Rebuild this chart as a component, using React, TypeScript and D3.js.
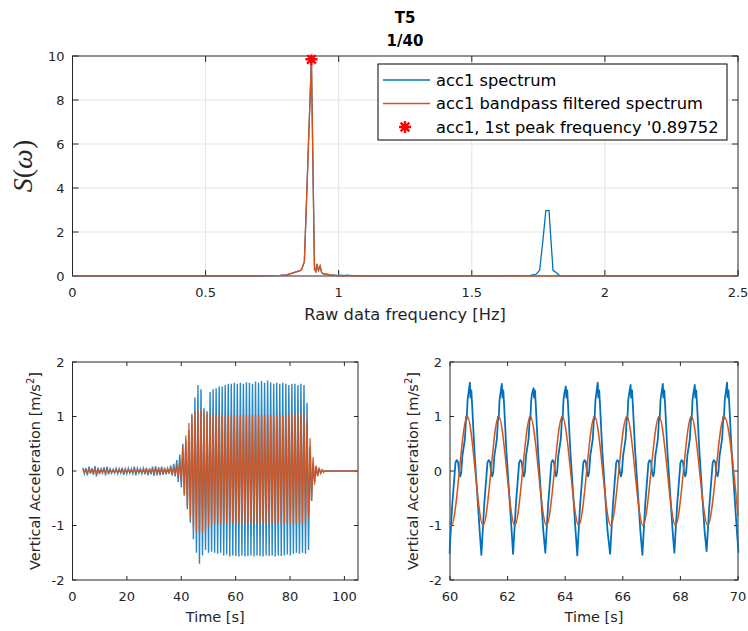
import React from 'react';
import * as d3 from 'd3';

// ---------------- data ----------------
// Top: spectra
const specFreq = [0, 0.5, 0.7, 0.78, 0.805, 0.843, 0.855, 0.861, 0.871, 0.88, 0.889, 0.8975, 0.905, 0.909, 0.914, 0.918, 0.924, 0.93, 0.936, 0.943, 0.955, 0.968, 0.99, 1.0, 1.01, 1.02, 1.03, 1.05, 1.2, 1.6, 1.72, 1.743, 1.755, 1.767, 1.778, 1.79, 1.805, 1.818, 1.83, 1.86, 2.0, 2.5];
const specOrange = [0.01, 0.01, 0.01, 0.03, 0.05, 0.2, 0.24, 0.3, 0.65, 3.7, 6.9, 9.85, 3.6, 0.3, 0.2, 0.55, 0.25, 0.45, 0.15, 0.1, 0.08, 0.05, 0.03, 0.02, 0.01, 0.01, 0.01, 0.01, 0.01, 0.01, 0.01, 0.01, 0.01, 0.01, 0.01, 0.01, 0.01, 0.01, 0.01, 0.01, 0.01, 0.01];
const specBlue = [0.01, 0.01, 0.01, 0.03, 0.05, 0.2, 0.24, 0.3, 0.65, 3.7, 6.9, 9.85, 3.6, 0.3, 0.2, 0.55, 0.25, 0.45, 0.15, 0.1, 0.08, 0.05, 0.03, 0.02, 0.04, 0.02, 0.04, 0.02, 0.01, 0.01, 0.03, 0.09, 0.27, 1.6, 2.97, 2.97, 0.27, 0.15, 0.02, 0.01, 0.01, 0.01];
const peakFreq = 0.89752;
const peakValue = 9.85;
const topXTicks = [0, 0.5, 1, 1.5, 2, 2.5];
const topYTicks = [0, 2, 4, 6, 8, 10];

// Bottom left: per-cycle extremes of the time series (one cycle = 1/peakFreq s)
const leftStart = 3.8;
const blueUp = [0.06, 0.05, 0.08, 0.05, 0.09, 0.06, 0.04, 0.07, 0.08, 0.04, 0.03, 0.05, 0.04, 0.06, 0.04, 0.05, 0.04, 0.08, 0.05, 0.04, 0.05, 0.06, 0.05, 0.08, 0.09, 0.07, 0.08, 0.06, 0.05, 0.1, 0.13,
  0.2, 0.3, 0.5, 0.55, 0.75, 1.05, 1.35, 1.58, 1.5, 1.15, 1.1, 1.45, 1.5, 1.52, 1.55, 1.55, 1.58, 1.6, 1.6, 1.62, 1.6, 1.62, 1.6, 1.63, 1.62, 1.6, 1.64, 1.62, 1.65, 1.62, 1.66, 1.63, 1.6, 1.62, 1.6, 1.62, 1.6, 1.58, 1.6, 1.6, 1.58, 1.6, 1.58, 1.25, 0.45, 0.15, 0.08, 0.04, 0.02];
const blueLow = [-0.05, -0.08, -0.05, -0.07, -0.1, -0.06, -0.04, -0.08, -0.06, -0.04, -0.04, -0.05, -0.04, -0.07, -0.05, -0.04, -0.05, -0.08, -0.04, -0.05, -0.06, -0.08, -0.06, -0.09, -0.08, -0.08, -0.07, -0.06, -0.05, -0.08, -0.1,
  -0.2, -0.3, -0.45, -0.7, -0.95, -1.25, -1.5, -1.7, -1.55, -1.45, -1.5, -1.48, -1.5, -1.52, -1.5, -1.55, -1.53, -1.57, -1.55, -1.56, -1.57, -1.55, -1.57, -1.56, -1.55, -1.57, -1.55, -1.56, -1.57, -1.55, -1.56, -1.55, -1.57, -1.55, -1.56, -1.55, -1.53, -1.55, -1.52, -1.5, -1.52, -1.5, -1.52, -1.45, -0.55, -0.2, -0.08, -0.04, -0.02];
const orangeUp = [0.02, 0.03, 0.02, 0.03, 0.04, 0.03, 0.02, 0.03, 0.03, 0.02, 0.02, 0.02, 0.02, 0.03, 0.02, 0.02, 0.02, 0.03, 0.02, 0.02, 0.03, 0.03, 0.02, 0.03, 0.04, 0.03, 0.04, 0.03, 0.03, 0.05, 0.06,
  0.1, 0.2, 0.45, 0.65, 0.88, 1.0, 1.08, 1.12, 1.12, 1.1, 1.05, 1.04, 1.03, 1.03, 1.02, 1.03, 1.02, 1.03, 1.02, 1.02, 1.03, 1.02, 1.03, 1.02, 1.03, 1.02, 1.02, 1.03, 1.02, 1.03, 1.02, 1.03, 1.03, 1.02, 1.03, 1.02, 1.03, 1.04, 1.03, 1.05, 1.04, 1.06, 1.05, 0.9, 0.6, 0.25, 0.1, 0.05, 0.02];
const orangeLow = [-0.02, -0.03, -0.02, -0.03, -0.04, -0.03, -0.02, -0.03, -0.03, -0.02, -0.02, -0.02, -0.02, -0.03, -0.02, -0.02, -0.02, -0.03, -0.02, -0.02, -0.03, -0.03, -0.02, -0.03, -0.04, -0.03, -0.04, -0.03, -0.03, -0.05, -0.06,
  -0.1, -0.2, -0.45, -0.65, -0.88, -1.02, -1.1, -1.12, -1.13, -1.1, -1.02, -0.98, -0.97, -0.96, -0.97, -0.96, -0.97, -0.96, -0.97, -0.97, -0.96, -0.97, -0.96, -0.97, -0.96, -0.97, -0.97, -0.96, -0.97, -0.96, -0.97, -0.96, -0.97, -0.97, -0.96, -0.97, -0.96, -0.97, -0.97, -0.97, -0.98, -0.97, -0.97, -0.85, -0.55, -0.25, -0.1, -0.04, -0.02];
const leftTail = [[92.6, 0], [105, 0]];
const leftXTicks = [0, 20, 40, 60, 80, 100];
const accYTicks = [-2, -1, 0, 1, 2];

// Bottom right: zoom 60-70 s
const rOrangeT = [60.0, 60.05, 60.6, 61.15, 61.69, 62.25, 62.79, 63.35, 63.9, 64.47, 65.02, 65.58, 66.14, 66.7, 67.26, 67.83, 68.38, 68.95, 69.52, 70.0];
const rOrangeV = [-0.99, -1.0, 1.0, -1.0, 1.0, -1.0, 1.0, -1.0, 1.0, -1.0, 1.0, -1.0, 1.0, -1.0, 1.0, -1.0, 1.0, -1.0, 1.0, -0.82];
const rTroughT = [59.98, 61.09, 62.19, 63.31, 64.42, 65.56, 66.68, 67.79, 68.91];
const rTroughV = [-1.52, -1.54, -1.52, -1.5, -1.55, -1.52, -1.54, -1.5, -1.47];
const rPeakV = [1.62, 1.6, 1.52, 1.55, 1.62, 1.58, 1.6, 1.58, 1.62];
const rPeakDt = 0.71;
const rShapeDt = [0.1, 0.21, 0.25, 0.3, 0.34, 0.38, 0.41, 0.45, 0.5, 0.54, 0.58, 0.6, 0.63, 0.66, 0.73, 0.76, 0.79, 0.87, 0.97, 1.05];
const rShapeV = [-0.6, 0.15, 0.2, 0.17, -0.03, -0.1, -0.02, 0.28, 0.45, 0.6, 1.0, 0.95, 1.3, 1.42, 1.35, 1.48, 1.2, 0.35, -0.45, -1.1];
const rEnd = [70.02, -1.5];
const rightXTicks = [60, 62, 64, 66, 68, 70];

const legendLabels = ['acc1 spectrum', 'acc1 bandpass filtered spectrum', "acc1, 1st peak frequency '0.89752"];

// ---------------- style ----------------
const BLUE = '#0072BD';
const ORANGE = '#D95319';
const AX = '#262626';
const FONT = '"DejaVu Sans", sans-serif';

const TOP = { l: 72.5, r: 738, t: 56, b: 276 };
const BL = { l: 72.5, r: 358, t: 362, b: 580 };
const BR = { l: 450, r: 738, t: 362, b: 580 };

type Box = { l: number; r: number; t: number; b: number };

function Frame(props: {
  box: Box; xs: any; ys: any; xTicks: number[]; yTicks: number[]; tick: number; grid?: boolean; id: string; children?: any;
}) {
  const { box, xs, ys, xTicks, yTicks, tick, grid, id, children } = props;
  return (
    <g>
      {grid && (
        <g stroke="#e3e3e3" strokeWidth={1}>
          {xTicks.slice(1, -1).map((v) => (
            <line key={'gx' + v} x1={xs(v)} x2={xs(v)} y1={box.t} y2={box.b} />
          ))}
          {yTicks.slice(1, -1).map((v) => (
            <line key={'gy' + v} y1={ys(v)} y2={ys(v)} x1={box.l} x2={box.r} />
          ))}
        </g>
      )}
      <rect x={box.l} y={box.t} width={box.r - box.l} height={box.b - box.t} fill="none" stroke={AX} strokeWidth={1} />
      <g stroke={AX} strokeWidth={1}>
        {xTicks.map((v) => (
          <g key={'tx' + v}>
            <line x1={xs(v)} x2={xs(v)} y1={box.b} y2={box.b - tick} />
            <line x1={xs(v)} x2={xs(v)} y1={box.t} y2={box.t + tick} />
          </g>
        ))}
        {yTicks.map((v) => (
          <g key={'ty' + v}>
            <line y1={ys(v)} y2={ys(v)} x1={box.l} x2={box.l + tick} />
            <line y1={ys(v)} y2={ys(v)} x1={box.r} x2={box.r - tick} />
          </g>
        ))}
      </g>
      <clipPath id={id}>
        <rect x={box.l - 1.5} y={box.t - 1.5} width={box.r - box.l + 3} height={box.b - box.t + 3} />
      </clipPath>
      <g clipPath={`url(#${id})`}>{children}</g>
      <g fill={AX} fontFamily={FONT} fontSize={13}>
        {xTicks.map((v) => (
          <text key={'lx' + v} x={xs(v)} y={box.b + 20.5} textAnchor="middle">{String(v)}</text>
        ))}
        {yTicks.map((v) => (
          <text key={'ly' + v} x={box.l - 8} y={ys(v)} dy="0.36em" textAnchor="end">{String(v)}</text>
        ))}
      </g>
    </g>
  );
}

function starPath(cx: number, cy: number, r: number) {
  const d = r * 0.72;
  return `M${cx - r},${cy}L${cx + r},${cy}M${cx},${cy - r}L${cx},${cy + r}M${cx - d},${cy - d}L${cx + d},${cy + d}M${cx - d},${cy + d}L${cx + d},${cy - d}`;
}

function zigzag(up: number[], low: number[]) {
  const cyc = 1 / peakFreq;
  const pts: [number, number][] = [];
  up.forEach((u, k) => {
    pts.push([leftStart + k * cyc, u]);
    pts.push([leftStart + (k + 0.5) * cyc, low[k]]);
  });
  leftTail.forEach((p) => pts.push([p[0], p[1]]));
  return pts;
}

function rightBlue() {
  const pts: [number, number][] = [];
  rTroughT.forEach((t, i) => {
    pts.push([t, rTroughV[i]]);
    rShapeDt.forEach((dt, j) => {
      if (j === 14) pts.push([t + rPeakDt, rPeakV[i]]);
      pts.push([t + dt, rShapeV[j]]);
    });
  });
  pts.push([rEnd[0], rEnd[1]]);
  return pts;
}

export default function App() {
  const xTop = d3.scaleLinear().domain([0, 2.5]).range([TOP.l, TOP.r]);
  const yTop = d3.scaleLinear().domain([0, 10]).range([TOP.b, TOP.t]);
  const xL = d3.scaleLinear().domain([0, 105]).range([BL.l, BL.r]);
  const yL = d3.scaleLinear().domain([-2, 2]).range([BL.b, BL.t]);
  const xR = d3.scaleLinear().domain([60, 70]).range([BR.l, BR.r]);
  const yR = d3.scaleLinear().domain([-2, 2]).range([BR.b, BR.t]);

  const specLine = d3.line<number>().x((_, i) => xTop(specFreq[i])).y((v) => yTop(v));
  const lLine = d3.line<[number, number]>().x((d) => xL(d[0])).y((d) => yL(d[1]));
  const rLine = d3.line<[number, number]>().x((d) => xR(d[0])).y((d) => yR(d[1]));
  const rSmooth = d3.line<number>().x((_, i) => xR(rOrangeT[i])).y((v) => yR(v)).curve(d3.curveMonotoneX);

  const legX = 378, legY = 64, legW = 349, legH = 76;
  const rowY = [80, 103.5, 127];

  return (
    <svg width={748} height={631} style={{ position: 'absolute', left: 0, top: 0, background: '#fff' }} fontFamily={FONT}>
      <rect x={0} y={0} width={748} height={631} fill="#fff" />
      {/* titles */}
      <text x={405} y={23} textAnchor="middle" fontWeight="bold" fontSize={15} fill="#000">T5</text>
      <text x={405} y={45.5} textAnchor="middle" fontWeight="bold" fontSize={15} fill="#000">1/40</text>

      {/* top spectrum */}
      <Frame box={TOP} xs={xTop} ys={yTop} xTicks={topXTicks} yTicks={topYTicks} tick={6} grid id="clipTop">
        <path d={specLine(specBlue) || ''} fill="none" stroke={BLUE} strokeWidth={1.3} />
        <path d={specLine(specOrange) || ''} fill="none" stroke={ORANGE} strokeWidth={1.3} />
        <path d={starPath(xTop(peakFreq), yTop(peakValue), 6)} stroke="#ff0000" strokeWidth={2.4} fill="none" />
      </Frame>
      <text x={405} y={320} textAnchor="middle" fontSize={16.3} fill={AX}>Raw data frequency [Hz]</text>
      <text transform="translate(32,166) rotate(-90)" textAnchor="middle" fontFamily='"Liberation Serif", serif' fontSize={28} fill={AX}>
        <tspan fontStyle="italic">S</tspan><tspan>(</tspan><tspan fontStyle="italic">ω</tspan><tspan>)</tspan>
      </text>

      {/* legend */}
      <rect x={legX} y={legY} width={legW} height={legH} fill="#fff" stroke="#000" strokeWidth={1} />
      <line x1={383} x2={430} y1={rowY[0]} y2={rowY[0]} stroke={BLUE} strokeWidth={1.3} />
      <line x1={383} x2={430} y1={rowY[1]} y2={rowY[1]} stroke={ORANGE} strokeWidth={1.3} />
      <path d={starPath(405, rowY[2], 6)} stroke="#ff0000" strokeWidth={2.4} fill="none" />
      {legendLabels.map((s, i) => (
        <text key={s} x={436} y={rowY[i]} dy="0.36em" fontSize={16.3} fill="#000">{s}</text>
      ))}

      {/* bottom left */}
      <Frame box={BL} xs={xL} ys={yL} xTicks={leftXTicks} yTicks={accYTicks} tick={4} id="clipBL">
        <path d={lLine(zigzag(blueUp, blueLow)) || ''} fill="none" stroke={BLUE} strokeWidth={1.4} strokeOpacity={0.85} />
        <path d={lLine(zigzag(orangeUp, orangeLow)) || ''} fill="none" stroke={ORANGE} strokeWidth={1.4} strokeOpacity={0.9} />
      </Frame>
      <text x={(BL.l + BL.r) / 2} y={622} textAnchor="middle" fontSize={14.5} fill={AX}>Time [s]</text>
      <text transform={`translate(40,${(BL.t + BL.b) / 2}) rotate(-90)`} textAnchor="middle" fontSize={14.5} fill={AX}>
        Vertical Acceleration [m/s<tspan dy={-6} fontSize={10}>2</tspan><tspan dy={6}>]</tspan>
      </text>

      {/* bottom right */}
      <Frame box={BR} xs={xR} ys={yR} xTicks={rightXTicks} yTicks={accYTicks} tick={4} id="clipBR">
        <path d={rLine(rightBlue()) || ''} fill="none" stroke={BLUE} strokeWidth={1.8} strokeLinejoin="round" />
        <path d={rSmooth(rOrangeV) || ''} fill="none" stroke={ORANGE} strokeWidth={1.5} />
      </Frame>
      <text x={(BR.l + BR.r) / 2} y={622} textAnchor="middle" fontSize={14.5} fill={AX}>Time [s]</text>
      <text transform={`translate(417.5,${(BR.t + BR.b) / 2}) rotate(-90)`} textAnchor="middle" fontSize={14.5} fill={AX}>
        Vertical Acceleration [m/s<tspan dy={-6} fontSize={10}>2</tspan><tspan dy={6}>]</tspan>
      </text>
    </svg>
  );
}
